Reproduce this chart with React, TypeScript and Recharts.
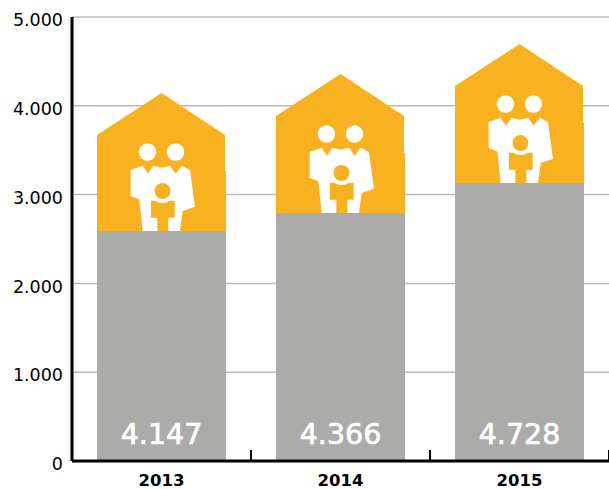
import { Bar, BarChart, CartesianGrid, LabelList, XAxis, YAxis } from "recharts";

const years = ["2013", "2014", "2015"];
const totalLabels = ["4.147", "4.366", "4.728"];
const baseValues = [2590, 2793, 3130];
const peakValues = [4144, 4358, 4696];
const yTicks = [0, 1000, 2000, 3000, 4000, 5000];

const GREY = "#ababaa";
const ORANGE = "#f9b21f";
const FONT = "'DejaVu Sans', sans-serif";

const table = years.map((year, i) => ({
  year,
  label: totalLabels[i],
  base: baseValues[i],
  house: peakValues[i] - baseValues[i],
}));

const bodyOutline: [number, number][] = [
  [152, 270], [188, 257], [204, 281], [220, 257], [245, 263], [270, 257], [287, 281], [305, 257],
  [330, 270], [345, 380], [308, 393], [300, 453], [188, 453], [178, 358], [152, 348],
];
const childOutline: [number, number][] = [
  [213, 362], [284, 362], [284, 413], [265, 413], [265, 453], [232, 453], [232, 413], [213, 413],
];

// outlines above were traced at 3x, relative to the middle of the house and its floor
const toPoints = (pts: [number, number][], cx: number, floor: number) =>
  pts.map(([a, b]) => `${cx + (a - 244.5) / 3},${floor + (b - 453) / 3}`).join(" ");

function HouseShape({ x, y, width, height }: any) {
  const cx = x + width / 2;
  const floor = y + height;
  const eave = y + 42;
  const step = floor - 60;
  const right = x + width;
  const house = `${x},${floor} ${x},${eave} ${cx},${y} ${right - 1},${eave} ${right - 1},${step} ${right},${step} ${right},${floor}`;
  return (
    <g>
      <polygon points={house} fill={ORANGE} />
      <circle cx={cx - 14} cy={floor - 79} r={8.7} fill="#fff" />
      <circle cx={cx + 14} cy={floor - 79} r={8.7} fill="#fff" />
      <polygon points={toPoints(bodyOutline, cx, floor)} fill="#fff" />
      <polygon points={toPoints(childOutline, cx, floor)} fill={ORANGE} />
      <circle cx={cx + 1} cy={floor - 40} r={12} fill="#fff" />
      <circle cx={cx + 1} cy={floor - 40} r={8} fill={ORANGE} />
    </g>
  );
}

function YearTick({ x, y, payload }: any) {
  return (
    <g>
      <line x1={x + 89.5} x2={x + 89.5} y1={y - 11} y2={y} stroke="#000" strokeWidth={2} />
      <text x={x} y={y + 25} textAnchor="middle" fontFamily={FONT} fontSize={16.5} fontWeight={700} fill="#000">
        {payload.value}
      </text>
    </g>
  );
}

const formatTick = (v: number) => (v === 0 ? "0" : `${v / 1000}.000`);

export default function App() {
  return (
    <div style={{ position: "absolute", left: 0, top: 0 }}>
      <BarChart
        width={609}
        height={489}
        data={table}
        margin={{ top: 17, right: 0, left: 0, bottom: 0 }}
        barCategoryGap={25}
      >
        <CartesianGrid vertical={false} stroke="#bbbbbb" strokeWidth={1.5} />
        <XAxis
          dataKey="year"
          height={28}
          tickSize={0}
          tickMargin={0}
          tickLine={false}
          axisLine={{ stroke: "#000", strokeWidth: 3 }}
          tick={YearTick}
          interval={0}
        />
        <YAxis
          width={72}
          domain={[0, 5000]}
          ticks={yTicks}
          tickFormatter={formatTick}
          tickLine={false}
          axisLine={{ stroke: "#000", strokeWidth: 3 }}
          tick={{ fill: "#000", fontSize: 17.5, fontFamily: FONT, dy: 3 }}
          tickMargin={3}
        />
        <Bar dataKey="base" stackId="a" fill={GREY} barSize={129} isAnimationActive={false}>
          <LabelList
            dataKey="label"
            position="insideBottom"
            offset={17}
            fill="#fff"
            stroke="#fff"
            strokeWidth={0.7}
            fontSize={28.5}
            fontFamily={FONT}
          />
        </Bar>
        <Bar dataKey="house" stackId="a" barSize={129} shape={HouseShape} isAnimationActive={false} />
      </BarChart>
    </div>
  );
}
